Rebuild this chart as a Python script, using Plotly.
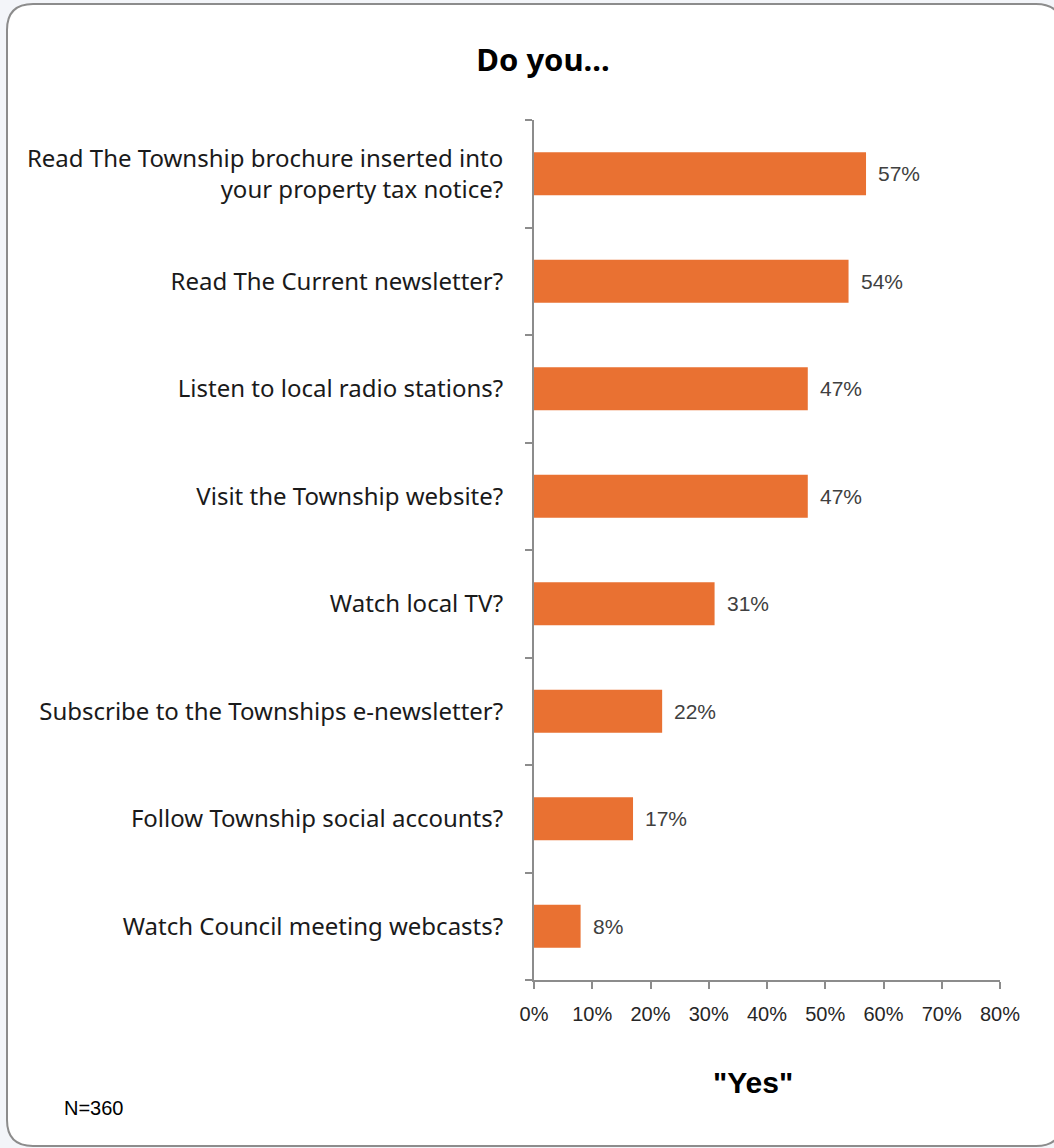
import plotly.graph_objects as go

categories = [
    "Read The Township brochure inserted into<br>your property tax notice?",
    "Read The Current newsletter?",
    "Listen to local radio stations?",
    "Visit the Township website?",
    "Watch local TV?",
    "Subscribe to the Townships e-newsletter?",
    "Follow Township social accounts?",
    "Watch Council meeting webcasts?",
]
values = [57, 54, 47, 47, 31, 22, 17, 8]
tick_vals = [0, 10, 20, 30, 40, 50, 60, 70, 80]
tick_text = ["0%", "10%", "20%", "30%", "40%", "50%", "60%", "70%", "80%"]

W, H = 1054, 1148
L, R, T, B = 534, 1000, 120, 980


def px(x):
    return (x - L) / (R - L)


def py(y):
    return (B - y) / (B - T)


fig = go.Figure()
fig.add_trace(go.Bar(
    x=values, y=categories, orientation="h",
    marker=dict(color="#E97132", line=dict(width=0)),
    width=0.4, hoverinfo="skip",
))

for v, c in zip(values, categories):
    fig.add_annotation(x=v, y=c, text=f"{v}%", showarrow=False,
                       xanchor="left", yanchor="middle", xshift=10,
                       font=dict(family="Liberation Sans, Arial", size=21, color="#404040"))

# rounded frame
x0, y0, x1, y1, r = 7, 4, 1062, 1146, 26
path = (f"M {px(x0+r)},{py(y0)} L {px(x1-r)},{py(y0)} Q {px(x1)},{py(y0)} {px(x1)},{py(y0+r)} "
        f"L {px(x1)},{py(y1-r)} Q {px(x1)},{py(y1)} {px(x1-r)},{py(y1)} "
        f"L {px(x0+r)},{py(y1)} Q {px(x0)},{py(y1)} {px(x0)},{py(y1-r)} "
        f"L {px(x0)},{py(y0+r)} Q {px(x0)},{py(y0)} {px(x0+r)},{py(y0)} Z")
fig.add_shape(type="path", path=path, xref="paper", yref="paper",
              fillcolor="white", line=dict(color="#8c8c8c", width=2), layer="below")

fig.add_annotation(x=px(753), y=py(1082), xref="paper", yref="paper", text='<b>"Yes"</b>',
                   showarrow=False, xanchor="center", yanchor="middle",
                   font=dict(family="Liberation Sans, Arial", size=30, color="black"))
fig.add_annotation(x=px(62), y=py(1108), xref="paper", yref="paper", text="N=360",
                   showarrow=False, xanchor="left", yanchor="middle",
                   font=dict(family="Liberation Sans, Arial", size=20, color="black"))

fig.update_layout(
    width=W, height=H,
    margin=dict(l=L, r=W - R, t=T, b=H - B, autoexpand=False),
    paper_bgcolor="#f3f5f9", plot_bgcolor="rgba(0,0,0,0)",
    showlegend=False,
    title=dict(text="<b>Do you...</b>", x=543 / W, xanchor="center", y=1 - 60 / H, yanchor="middle",
               yref="container", font=dict(family="Noto Sans, Inter", size=31, color="black")),
    xaxis=dict(range=[0, 80], tickvals=tick_vals, ticktext=tick_text, showgrid=False, zeroline=False,
               showline=True, linecolor="#8c8c8c", linewidth=2, ticks="outside", ticklen=7,
               tickcolor="#8c8c8c", tickwidth=2, fixedrange=True, ticklabelstandoff=8,
               tickfont=dict(family="Liberation Sans, Arial", size=20, color="#262626")),
    yaxis=dict(categoryorder="array", categoryarray=categories[::-1], autorange=False,
               range=[-0.5, len(categories) - 0.5],
               showgrid=False, zeroline=False, showline=True, linecolor="#8c8c8c", linewidth=2,
               ticks="outside", ticklen=7, tickcolor="#8c8c8c", tickwidth=2, tickson="boundaries",
               ticklabelstandoff=24, fixedrange=True,
               tickfont=dict(family="Noto Sans, Inter", size=24, color="#1a1a1a")),
)

fig.write_html("out.html", config={"displayModeBar": False},
               post_script="document.body.style.margin='0';")
